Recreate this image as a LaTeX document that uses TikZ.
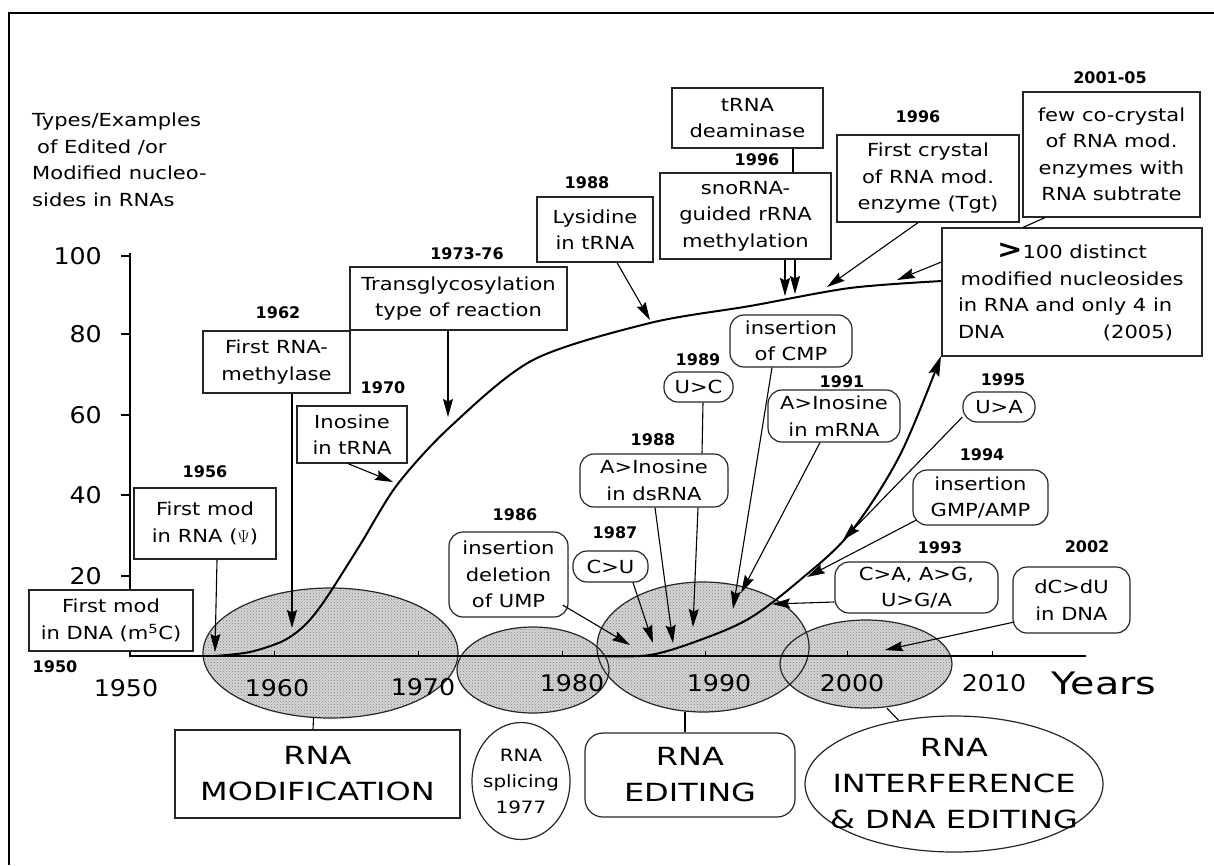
\documentclass[tikz,border=0pt]{standalone}
\usepackage{fontspec}
\setmainfont{DejaVu Sans}
\newfontfamily\bxfont[FakeStretch=1.17]{DejaVu Sans}
\newfontfamily\catfont[FakeStretch=1.28]{DejaVu Sans}
\newfontfamily\axfont[FakeStretch=1.1]{DejaVu Sans}
\usetikzlibrary{arrows.meta,shapes.geometric,patterns}
\begin{document}
\begin{tikzpicture}[x=1pt,y=-1pt,
 txt/.style={font=\bxfont\fontsize{18}{26.5}\selectfont, align=center, inner sep=0pt},
 bx/.style={txt, rectangle, draw=black!85, line width=1.2pt, fill=white},
 rbx/.style={bx, rounded corners=14pt},
 yr/.style={font=\bfseries\fontsize{16}{18}\selectfont, inner sep=0pt},
 axl/.style={font=\axfont\fontsize{23}{25}\selectfont, inner sep=0pt},
 cattxt/.style={font=\catfont\fontsize{25}{36}\selectfont, align=center, inner sep=0pt},
 catbx/.style={cattxt, draw=black!85, line width=1.2pt, fill=white},
 per/.style={ellipse, inner sep=0pt, fill=black!16, postaction={pattern=crosshatch dots, pattern color=black!50}},
 perline/.style={line width=1.2pt, draw=black!85},
 arr/.style={line width=1.1pt, -{Stealth[length=18pt,width=10pt,inset=2.5pt]}},
 ln/.style={line width=1.1pt},
 crv/.style={line width=2pt, line join=round, line cap=round}
]
\useasboundingbox (0,0) rectangle (1214,865);
% frame
\draw[line width=2.5pt] (9,865) -- (9,13) -- (1214,13);

% period ellipses
\node[per, minimum width=255pt, minimum height=130pt] (E1) at (330.5,653) {};
\node[per, minimum width=152pt, minimum height=86pt] (E2) at (533,670) {};
\node[per, minimum width=172pt, minimum height=88pt] (E4) at (866,664) {};
\node[per, minimum width=212pt, minimum height=130pt] (E3) at (703,647) {};
\draw[perline] (E1.center) ellipse [x radius=127.5pt, y radius=65pt];
\draw[perline] (E2.center) ellipse [x radius=76pt, y radius=43pt];
\draw[perline] (E4.center) ellipse [x radius=86pt, y radius=44pt];
\draw[perline] (E3.center) ellipse [x radius=106pt, y radius=65pt];

% axes
\draw[line width=1.3pt] (130,253) -- (130,656) -- (1086,656);
\foreach \yy/\ll in {256/100,334/80,415/60,495/40,576/20}{
  \draw[line width=1.3pt] (121,\yy) -- (130,\yy);
  \node[axl, anchor=east] at (102,\yy) {\ll};
}
\foreach \xx in {274,418,562,705,847,992}{
  \draw[line width=1pt] (\xx,656) -- (\xx,651);
}
\node[axl] (x1950) at (126,688) {1950};
\node[axl] (x1960) at (277,688) {1960};
\node[axl] (x1970) at (423,687) {1970};
\node[axl] (x1980) at (572,683.5) {1980};
\node[axl] (x1990) at (719,683.5) {1990};
\node[axl] (x2000) at (852,683.5) {2000};
\node[axl] (x2010) at (994,683.5) {2010};
\node[font=\catfont\fontsize{31}{33}\selectfont, inner sep=0pt] (years) at (1104,683) {Years};

% y axis title
\node[txt, align=left, anchor=north west] (ylab) at (32,113)
 {Types/Examples\\\hspace*{5pt}of Edited /or\\Modified nucleo-\\sides in RNAs};

% modification curve
\draw[crv] plot[smooth, tension=0.5] coordinates {(215,656) (250,652) (283,641) (305,625) (325,600) (360,545) (397,485) (450,427) (533,360) (650,323) (750,306) (850,288) (942,281)};

% boxes (modification)
\node[bx, minimum width=164pt, minimum height=61pt] (dnaBox) at (111,620.5) {First mod\\in DNA (m\textsuperscript{5}C)};
\node[bx, minimum width=142pt, minimum height=71pt] (rnaBox) at (205,523.5) {First mod\\in RNA ($\Psi$)};
\node[bx, minimum width=147pt, minimum height=62pt] (methBox) at (276.5,362) {First RNA-\\methylase};
\node[bx, minimum width=110pt, minimum height=57pt] (inoBox) at (352,434.5) {Inosine\\in tRNA};
\node[bx, minimum width=217pt, minimum height=63pt] (transBox) at (458.5,298.5) {Transglycosylation\\type of reaction};
\node[bx, minimum width=116pt, minimum height=65pt] (lysBox) at (595,229.5) {Lysidine\\in tRNA};
\node[bx, minimum width=151pt, minimum height=60pt] (deamBox) at (747.5,118) {tRNA\\deaminase};
\node[bx, minimum width=171pt, minimum height=86pt] (snoBox) at (745.5,216) {snoRNA-\\guided rRNA\\methylation};
\node[bx, minimum width=182pt, minimum height=87pt] (crystBox) at (928,178.5) {First crystal\\of RNA mod.\\enzyme (Tgt)};
\node[bx, minimum width=177pt, minimum height=125pt] (cocrBox) at (1111.5,154.5) {few co-crystal\\of RNA mod.\\enzymes with\\RNA subtrate};
\node[bx, minimum width=260pt, minimum height=128pt, align=left] (hundredBox) at (1072,292)
 {\makebox[228pt]{{\fontsize{26}{26}\selectfont\bfseries >}100 distinct}\\
  \makebox[228pt]{modified nucleosides}\\
  \makebox[228pt][l]{in RNA and only 4 in}\\
  \makebox[228pt][l]{DNA\hfill(2005)\hspace*{13pt}}};

% editing curve
\draw[crv, -{Stealth[length=20pt,width=11pt,inset=3pt]}] plot[smooth, tension=0.55] coordinates {(600,656) (650,655) (700,640) (750,618) (800,580) (850,533) (900,455) (941,356)};

% boxes (editing)
\node[rbx, minimum width=122pt, minimum height=52pt] (cmpBox) at (791,341) {insertion\\of CMP};
\node[rbx, minimum width=69pt, minimum height=30pt] (ucBox) at (698.5,387) {U>C};
\node[rbx, minimum width=132pt, minimum height=52pt] (mrnaBox) at (834,416) {A>Inosine\\in mRNA};
\node[rbx, minimum width=148pt, minimum height=53pt] (dsBox) at (654,480.5) {A>Inosine\\in dsRNA};
\node[rbx, minimum width=119pt, minimum height=85pt] (umpBox) at (508.5,574.5) {insertion\\deletion\\of UMP};
\node[rbx, minimum width=75pt, minimum height=31pt] (cuBox) at (610.5,566.5) {C>U};
\node[rbx, minimum width=72pt, minimum height=30pt] (uaBox) at (999,407) {U>A};
\node[rbx, minimum width=135pt, minimum height=55pt] (gmpBox) at (980.5,497.5) {insertion\\GMP/AMP};
\node[rbx, minimum width=163pt, minimum height=51pt] (caBox) at (916.5,587.5) {C>A, A>G,\\U>G/A};
\node[rbx, minimum width=117pt, minimum height=66pt] (dcBox) at (1071.5,600) {dC>dU\\in DNA};

% year labels
\node[yr] (l1950) at (55,667) {1950};
\node[yr] (l1956) at (205,472) {1956};
\node[yr] (l1962) at (278,313) {1962};
\node[yr] (l1970) at (383,388) {1970};
\node[yr] (l1973) at (467,254) {1973-76};
\node[yr] (l1988a) at (587,183) {1988};
\node[yr] (l1996a) at (757,160) {1996};
\node[yr] (l1996b) at (918,117) {1996};
\node[yr] (l2001) at (1110,78) {2001-05};
\node[yr] (l1986) at (515,515) {1986};
\node[yr] (l1987) at (615,533) {1987};
\node[yr] (l1988b) at (653,440) {1988};
\node[yr] (l1989) at (698,360) {1989};
\node[yr] (l1991) at (842,382) {1991};
\node[yr] (l1995) at (1003,380) {1995};
\node[yr] (l1994) at (982,455) {1994};
\node[yr] (l1993) at (940,548) {1993};
\node[yr] (l2002) at (1087,547) {2002};

% category nodes
\node[catbx, minimum width=285pt, minimum height=88pt] (modCat) at (317.5,774) {RNA\\MODIFICATION};
\node[ellipse, draw=black!85, line width=1.2pt, fill=white, inner sep=0pt, minimum width=98pt, minimum height=117pt] (splice) at (521,781) {};
\node[txt, font=\bxfont\fontsize{17}{26}\selectfont] (spliceTxt) at (splice.center) {RNA\\splicing\\1977};
\node[catbx, rounded corners=18pt, minimum width=210pt, minimum height=84pt] (editCat) at (690,775) {RNA\\EDITING};
\node[ellipse, draw=black!85, line width=1.2pt, fill=white, inner sep=0pt, minimum width=298pt, minimum height=136pt] (interfCat) at (954,784) {};
\node[cattxt] (interfTxt) at (interfCat.center) {RNA\\INTERFERENCE\\\& DNA EDITING};

% tips
\coordinate (tRna) at (215,652);
\coordinate (tMeth) at (292,628);
\coordinate (tIno) at (393,482);
\coordinate (tTrans) at (448,417);
\coordinate (tLys) at (650,320);
\coordinate (tSnoA) at (785,296);
\coordinate (tSnoB) at (795,294);
\coordinate (tCryst) at (827,287);
\coordinate (tHund) at (897,280);
\coordinate (tUmp) at (630,645);
\coordinate (tCu) at (653,643);
\coordinate (tDsA) at (673,643);
\coordinate (tDsB) at (693,627);
\coordinate (tCmp) at (733,609);
\coordinate (tMrna) at (741,593);
\coordinate (tUa) at (843,540);
\coordinate (tGmp) at (807,577);
\coordinate (tCa) at (772,604);
\coordinate (tDc) at (885,650);

% connectors
\draw[arr] ([xshift=12pt]rnaBox.south) -- (tRna);
\draw[arr] ([xshift=15.5pt]methBox.south) -- (tMeth);
\draw[arr] ([xshift=-4pt]inoBox.south) -- (tIno);
\draw[arr] ([xshift=-10.5pt]transBox.south) -- (tTrans);
\draw[arr] ([xshift=22pt]lysBox.south) -- (tLys);
\draw[arr] ([xshift=39.5pt]snoBox.south) -- (tSnoA);
\draw[arr] ([xshift=49.5pt]snoBox.south) -- (tSnoB);
\draw[ln] ([xshift=45.5pt]deamBox.south) -- ([xshift=47.5pt]snoBox.north);
\draw[arr] ([xshift=-10pt]crystBox.south) -- (tCryst);
\draw[arr] ([yshift=30pt]hundredBox.west) -- (tHund);
\draw[ln] ([xshift=-66.5pt]cocrBox.south) -- ([xshift=-49pt]hundredBox.north);
\draw[arr] ([xshift=-6pt,yshift=-30.5pt]umpBox.east) -- (tUmp);
\draw[arr] ([xshift=22.5pt]cuBox.south) -- (tCu);
\draw[arr] ([xshift=1pt]dsBox.south) -- (tDsA);
\draw[arr] ([xshift=44pt]dsBox.south) -- (tDsB);
\draw[ln] ([xshift=4.5pt]ucBox.south) -- ([xshift=48pt]dsBox.north);
\draw[arr] ([xshift=-19pt]cmpBox.south) -- (tCmp);
\draw[arr] ([xshift=-14pt]mrnaBox.south) -- (tMrna);
\draw[arr] ([yshift=-10pt]uaBox.west) -- (tUa);
\draw[arr] ([xshift=4pt,yshift=-22.5pt]gmpBox.west) -- (tGmp);
\draw[arr] ([yshift=-14.5pt]caBox.west) -- (tCa);
\draw[arr] ([xshift=2pt,yshift=-22pt]dcBox.west) -- (tDc);
\draw[ln] ([xshift=-17pt]E1.south) -- ([xshift=-4.5pt]modCat.north);
\draw[ln] ([xshift=-18pt]E3.south) -- ([xshift=-5pt]editCat.north);
\draw[ln] ([xshift=21pt]E4.south) -- (interfCat.131);
\end{tikzpicture}
\end{document}
